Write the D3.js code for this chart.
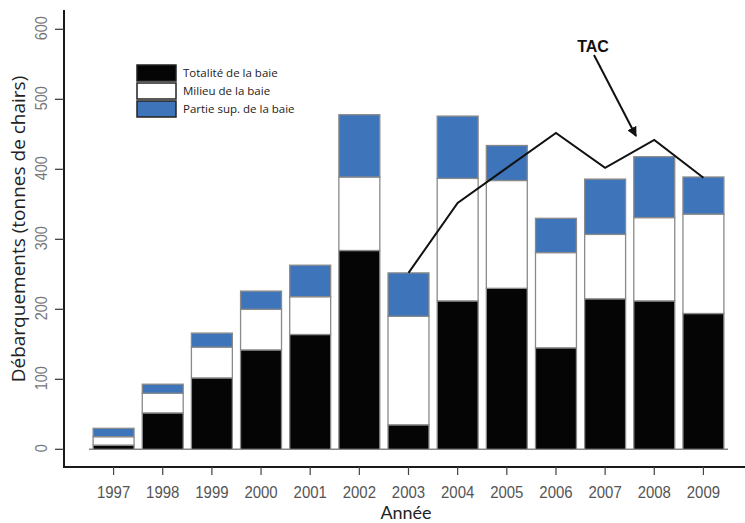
<!DOCTYPE html>
<html><head><meta charset="utf-8">
<script src="https://cdn.jsdelivr.net/npm/d3@7"></script>
<style>body{margin:0;background:#fff}</style>
</head><body>
<svg id="c" width="745" height="523"></svg>
<script>
const years = ["1997","1998","1999","2000","2001","2002","2003","2004","2005","2006","2007","2008","2009"];
const totalite = [6, 52, 102, 142, 164, 284, 35, 212, 230, 145, 215, 212, 194];
const milieu   = [12, 28, 44, 58, 54, 105, 155, 175, 154, 136, 92, 119, 142];
const partie   = [12, 13, 20, 26, 45, 89, 62, 89, 50, 49, 79, 87, 53];
const tacYears = ["2003","2004","2005","2006","2007","2008","2009"];
const tacValues = [252, 352, 402, 452, 402, 442, 388];
const yTicks = [0, 100, 200, 300, 400, 500, 600];
const seriesNames = ["Totalité de la baie", "Milieu de la baie", "Partie sup. de la baie"];
const seriesColors = ["#050505", "#ffffff", "#3e74b9"];

const svg = d3.select("#c");
const x = d3.scaleBand().domain(years).range([89, 728]).paddingInner(0.167).paddingOuter(0.0835);
const y = d3.scaleLinear().domain([0, 600]).range([449.3, 29.3]);

const table = years.map((yr, i) => ({year: yr, s0: totalite[i], s1: milieu[i], s2: partie[i]}));
const stack = d3.stack().keys(["s0","s1","s2"])(table);
const tickFont = "'Liberation Sans',Arial,sans-serif";

// axes frame
svg.append("line").attr("x1",64).attr("x2",64).attr("y1",10).attr("y2",468).attr("stroke","#1a1a1a").attr("stroke-width",2);
svg.append("line").attr("x1",63).attr("x2",745).attr("y1",467).attr("y2",467).attr("stroke","#1a1a1a").attr("stroke-width",2);

// y ticks
const yg = svg.append("g");
yTicks.forEach(t => {
  yg.append("line").attr("x1",55).attr("x2",64).attr("y1",y(t)).attr("y2",y(t)).attr("stroke","#333").attr("stroke-width",1.2);
  yg.append("text").attr("transform",`translate(47,${y(t)-1}) rotate(-90) scale(0.85,1)`)
    .attr("text-anchor","middle").attr("font-family",tickFont)
    .attr("font-size",17).attr("fill","#777").text(t);
});

// baseline
svg.append("line").attr("x1",89).attr("x2",728).attr("y1",y(0)).attr("y2",y(0)).attr("stroke","#888").attr("stroke-width",1.5);

// bars
stack.forEach((layer, k) => {
  svg.append("g").selectAll("rect").data(layer).join("rect")
    .attr("x", d => x(d.data.year))
    .attr("width", x.bandwidth())
    .attr("y", d => y(d[1]))
    .attr("height", d => y(d[0]) - y(d[1]))
    .attr("fill", seriesColors[k])
    .attr("stroke", "#8a8a8a").attr("stroke-width", 1.3);
});

// x ticks
const xg = svg.append("g");
years.forEach(yr => {
  const cx = x(yr) + x.bandwidth()/2;
  xg.append("line").attr("x1",cx).attr("x2",cx).attr("y1",467).attr("y2",475).attr("stroke","#444").attr("stroke-width",1.2);
  xg.append("text").attr("transform",`translate(${cx},498) scale(0.88,1)`).attr("text-anchor","middle")
    .attr("font-family",tickFont)
    .attr("font-size",17).attr("fill","#555").text(yr);
});

// TAC line
const line = d3.line().x(d => x(d[0]) + x.bandwidth()/2).y(d => y(d[1]));
svg.append("path").datum(tacYears.map((yr,i)=>[yr, tacValues[i]]))
  .attr("d", line).attr("fill","none").attr("stroke","#111").attr("stroke-width",2);

// TAC label and arrow
svg.append("defs").append("marker").attr("id","ah").attr("viewBox","0 0 10 10")
  .attr("refX",9).attr("refY",5).attr("markerWidth",5).attr("markerHeight",5).attr("orient","auto")
  .append("path").attr("d","M0,0 L10,5 L0,10 z").attr("fill","#111");
svg.append("text").attr("x",593).attr("y",52).attr("text-anchor","middle")
  .attr("font-family","'Liberation Sans',Arial,sans-serif").attr("font-weight","bold").attr("font-size",16).attr("fill","#111").text("TAC");
svg.append("line").attr("x1",594).attr("y1",55).attr("x2",636).attr("y2",136)
  .attr("stroke","#111").attr("stroke-width",2).attr("marker-end","url(#ah)");

// legend
const lg = svg.append("g");
seriesNames.forEach((n, i) => {
  const ly = [65, 83, 101][i];
  lg.append("rect").attr("x",137).attr("y",ly).attr("width",39).attr("height",16)
    .attr("fill",seriesColors[i]).attr("stroke","#222").attr("stroke-width",1.5);
  lg.append("text").attr("x",183).attr("y",ly+12).attr("font-family","'Open Sans','Noto Sans',sans-serif")
    .attr("font-size",11.5).attr("fill","#222").text(n);
});

// axis titles
svg.append("text").attr("x",406).attr("y",519).attr("text-anchor","middle")
  .attr("font-family","Lato,'Open Sans',sans-serif").attr("font-size",18).attr("fill","#222").text("Année");
svg.append("text").attr("transform","translate(25,229) rotate(-90)").attr("text-anchor","middle")
  .attr("font-family","'Open Sans','Noto Sans',sans-serif").attr("font-size",19).attr("fill","#222").text("Débarquements (tonnes de chairs)");
</script>
</body></html>
